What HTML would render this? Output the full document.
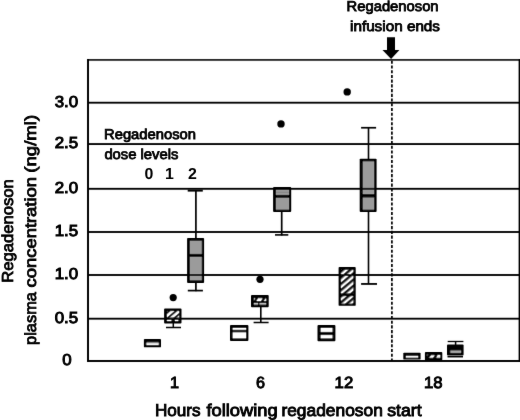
<!DOCTYPE html>
<html lang="en"><head><meta charset="utf-8"><title>Regadenoson plasma concentration</title>
<style>html,body{margin:0;padding:0;background:#fff;}svg{display:block;}text{font-family:"Liberation Sans", Arial, sans-serif;fill:#000;text-rendering:geometricPrecision;}</style></head><body>
<svg width="520" height="420" viewBox="0 0 520 420">
<defs>
<pattern id="h12" patternUnits="userSpaceOnUse" width="14" height="4.75" patternTransform="translate(341.05 283.8) rotate(-40) translate(0 -1.200)"><rect x="0" y="0" width="14" height="4.75" fill="#fff"/><rect x="0" y="0" width="14" height="2.4" fill="#000"/></pattern>
<pattern id="h1" patternUnits="userSpaceOnUse" width="14" height="4.4" patternTransform="translate(172.0 314.4) rotate(-40) translate(0 -0.950)"><rect x="0" y="0" width="14" height="4.4" fill="#fff"/><rect x="0" y="0" width="14" height="1.9" fill="#000"/></pattern>
<filter id="softg" filterUnits="userSpaceOnUse" x="0" y="0" width="520" height="420"><feConvolveMatrix order="3" kernelMatrix="0.00524 0.06192 0.00524 0.06192 0.73137 0.06192 0.00524 0.06192 0.00524" edgeMode="duplicate"/></filter>
<filter id="soft" filterUnits="userSpaceOnUse" x="0" y="0" width="520" height="420"><feConvolveMatrix order="3" kernelMatrix="0.00163 0.03713 0.00163 0.03713 0.84497 0.03713 0.00163 0.03713 0.00163" edgeMode="duplicate"/></filter>
</defs>
<rect x="0" y="0" width="520" height="420" fill="#fff"/>
<g id="chart" filter="url(#softg)">
<g id="boxes">
<rect x="143.90" y="338.90" width="17.10" height="8.40" rx="0.9" fill="#000"/>
<rect x="146.40" y="342.50" width="12.30" height="2.60" fill="#f6f6f6"/>
<rect x="164.10" y="308.60" width="17.40" height="14.80" rx="0.9" fill="#000"/>
<rect x="167.00" y="311.10" width="12.20" height="9.60" fill="url(#h1)"/>
<rect x="187.10" y="237.90" width="17.00" height="45.10" rx="0.9" fill="#000"/>
<rect x="189.80" y="240.70" width="12.00" height="39.70" fill="#9b9b9b"/>
<rect x="230.00" y="325.00" width="18.40" height="16.00" rx="0.9" fill="#000"/>
<rect x="232.60" y="328.00" width="13.40" height="10.40" fill="#fff"/>
<rect x="251.00" y="295.00" width="17.70" height="12.20" rx="0.9" fill="#000"/>
<rect x="273.10" y="187.00" width="18.10" height="25.00" rx="0.9" fill="#000"/>
<rect x="275.95" y="189.50" width="13.05" height="20.20" fill="#9b9b9b"/>
<rect x="317.50" y="325.10" width="17.90" height="16.10" rx="0.9" fill="#000"/>
<rect x="320.60" y="328.00" width="11.90" height="10.40" fill="#fff"/>
<rect x="338.60" y="267.10" width="17.10" height="38.70" rx="0.9" fill="#000"/>
<rect x="341.05" y="269.70" width="12.35" height="33.90" fill="url(#h12)"/>
<rect x="359.70" y="158.70" width="16.90" height="53.30" rx="0.9" fill="#000"/>
<rect x="362.70" y="161.30" width="11.50" height="48.40" fill="#9b9b9b"/>
<rect x="403.30" y="352.70" width="17.30" height="6.90" rx="0.9" fill="#000"/>
<rect x="405.90" y="355.80" width="12.30" height="1.90" fill="#f4f4f4"/>
<rect x="424.90" y="352.00" width="17.40" height="8.50" rx="0.9" fill="#000"/>
<rect x="447.00" y="344.60" width="16.60" height="10.80" rx="0.9" fill="#000"/>
<rect x="450.30" y="350.40" width="10.80" height="2.50" fill="#a8a8a8"/>
<polygon points="256.30,301.10 258.10,298.20 262.60,298.20 261.00,301.10" fill="#fff"/>
<polygon points="253.80,300.80 253.80,298.30 255.40,298.30" fill="#ddd"/>
<polygon points="263.80,301.10 265.30,298.50 266.30,298.50 266.30,301.10" fill="#e8e8e8"/>
<rect x="253.80" y="303.10" width="4.20" height="1.50" fill="#d0d0d0"/>
<rect x="259.40" y="303.10" width="6.80" height="1.50" fill="#d0d0d0"/>
<polygon points="429.10,357.70 431.20,355.30 434.90,355.30 433.00,357.70" fill="#fff"/>
<polygon points="436.20,357.70 437.60,355.10 440.30,355.10 440.30,357.70" fill="#f0f0f0"/>
<polygon points="426.70,356.20 426.70,354.60 428.60,354.60" fill="#777"/>
<rect x="167.20" y="319.50" width="4.50" height="1.50" fill="#fff"/>
<rect x="174.90" y="319.50" width="3.50" height="1.50" fill="#fff"/>
<rect x="171.60" y="319.60" width="3.40" height="1.30" fill="#000"/>
</g>
<g id="grid">
<rect x="88.00" y="101.78" width="431.30" height="1.85" fill="#000"/>
<rect x="88.00" y="143.12" width="431.30" height="1.85" fill="#000"/>
<rect x="88.00" y="187.88" width="431.30" height="1.85" fill="#000"/>
<rect x="88.00" y="231.07" width="431.30" height="1.85" fill="#000"/>
<rect x="88.00" y="274.07" width="431.30" height="1.85" fill="#000"/>
<rect x="88.00" y="317.77" width="431.30" height="1.85" fill="#000"/>
<rect x="87.20" y="59.00" width="432.80" height="1.80" fill="#222"/>
<rect x="87.20" y="360.02" width="433.80" height="1.95" fill="#000"/>
<rect x="87.03" y="59.10" width="1.95" height="302.80" fill="#000"/>
<rect x="518.60" y="59.10" width="1.60" height="302.80" fill="#000"/>
</g>
<g id="whiskers">
<rect x="147.00" y="343.45" width="11.20" height="0.70" fill="#c4c4c4"/>
<rect x="167.00" y="317.65" width="12.20" height="1.90" fill="#000"/>
<rect x="172.55" y="323.00" width="1.50" height="4.90" fill="#000"/>
<rect x="166.00" y="326.75" width="15.00" height="1.50" fill="#000"/>
<rect x="189.20" y="253.90" width="13.20" height="2.90" fill="#000"/>
<rect x="195.05" y="190.50" width="1.70" height="48.00" fill="#000"/>
<rect x="187.70" y="189.60" width="15.10" height="2.00" fill="#000"/>
<rect x="195.05" y="282.50" width="1.70" height="8.70" fill="#000"/>
<rect x="187.80" y="289.75" width="15.10" height="1.70" fill="#000"/>
<rect x="232.00" y="329.80" width="14.60" height="2.50" fill="#000"/>
<rect x="253.50" y="301.05" width="13.00" height="1.90" fill="#000"/>
<rect x="260.00" y="307.00" width="1.60" height="15.90" fill="#000"/>
<rect x="253.60" y="321.75" width="15.00" height="1.50" fill="#000"/>
<rect x="275.20" y="194.90" width="14.10" height="2.80" fill="#000"/>
<rect x="276.00" y="191.80" width="13.00" height="0.80" fill="#808080"/>
<rect x="280.85" y="211.50" width="1.70" height="24.00" fill="#000"/>
<rect x="275.00" y="234.10" width="13.30" height="1.60" fill="#000"/>
<rect x="320.00" y="331.90" width="13.10" height="3.20" fill="#000"/>
<rect x="340.50" y="293.40" width="13.50" height="2.80" fill="#000"/>
<rect x="361.80" y="194.15" width="13.00" height="3.30" fill="#000"/>
<rect x="367.70" y="127.80" width="1.60" height="31.40" fill="#000"/>
<rect x="361.10" y="126.90" width="15.00" height="1.70" fill="#000"/>
<rect x="367.70" y="211.50" width="1.60" height="72.40" fill="#000"/>
<rect x="361.10" y="283.05" width="15.90" height="1.80" fill="#000"/>
<rect x="454.85" y="341.50" width="1.50" height="3.50" fill="#000"/>
<rect x="447.70" y="340.85" width="15.70" height="1.30" fill="#000"/>
<rect x="447.50" y="355.95" width="15.50" height="1.50" fill="#000"/>
</g>
<g id="outliers">
<circle cx="173.2" cy="297.6" r="3.6" fill="#000"/>
<circle cx="260.0" cy="279.3" r="3.6" fill="#000"/>
<circle cx="281.0" cy="123.9" r="3.7" fill="#000"/>
<circle cx="347.2" cy="91.9" r="3.7" fill="#000"/>
</g>
<line x1="391.9" y1="60.7" x2="391.9" y2="360.5" stroke="#000" stroke-width="1.7" stroke-dasharray="3.1 1.626"/>
<polygon points="387.00,37.20 395.00,37.20 395.00,50.10 399.40,50.10 391.10,58.90 382.50,50.10 387.00,50.10" fill="#000"/>
</g>
<g id="labels" filter="url(#soft)">
<text x="346.60" y="11.30" font-size="14.2" font-weight="normal" text-anchor="start" textLength="92.00" lengthAdjust="spacingAndGlyphs" stroke="#000" stroke-width="0.8">Regadenoson</text>
<text x="350.00" y="31.30" font-size="14.2" font-weight="normal" text-anchor="start" textLength="90.00" lengthAdjust="spacingAndGlyphs" stroke="#000" stroke-width="0.8">infusion ends</text>
<text x="54.70" y="106.60" font-size="15.9" font-weight="normal" text-anchor="start" textLength="23.50" lengthAdjust="spacingAndGlyphs" stroke="#000" stroke-width="0.95">3.0</text>
<text x="54.70" y="147.95" font-size="15.9" font-weight="normal" text-anchor="start" textLength="23.50" lengthAdjust="spacingAndGlyphs" stroke="#000" stroke-width="0.95">2.5</text>
<text x="54.70" y="192.70" font-size="15.9" font-weight="normal" text-anchor="start" textLength="23.50" lengthAdjust="spacingAndGlyphs" stroke="#000" stroke-width="0.95">2.0</text>
<text x="54.70" y="235.90" font-size="15.9" font-weight="normal" text-anchor="start" textLength="23.50" lengthAdjust="spacingAndGlyphs" stroke="#000" stroke-width="0.95">1.5</text>
<text x="54.70" y="278.90" font-size="15.9" font-weight="normal" text-anchor="start" textLength="23.50" lengthAdjust="spacingAndGlyphs" stroke="#000" stroke-width="0.95">1.0</text>
<text x="54.70" y="322.60" font-size="15.9" font-weight="normal" text-anchor="start" textLength="23.50" lengthAdjust="spacingAndGlyphs" stroke="#000" stroke-width="0.95">0.5</text>
<text x="62.20" y="365.10" font-size="15.8" font-weight="normal" text-anchor="start" textLength="9.40" lengthAdjust="spacingAndGlyphs" stroke="#000" stroke-width="0.95">0</text>
<text x="13.20" y="282.80" font-size="16.0" font-weight="normal" text-anchor="start" textLength="103.50" lengthAdjust="spacingAndGlyphs" stroke="#000" stroke-width="0.8" transform="rotate(-90 13.20 282.80)">Regadenoson</text>
<text x="35.90" y="344.90" font-size="16.0" font-weight="normal" text-anchor="start" textLength="52.90" lengthAdjust="spacingAndGlyphs" stroke="#000" stroke-width="0.8" transform="rotate(-90 35.90 344.90)">plasma</text>
<text x="35.90" y="287.40" font-size="16.0" font-weight="normal" text-anchor="start" textLength="110.40" lengthAdjust="spacingAndGlyphs" stroke="#000" stroke-width="0.8" transform="rotate(-90 35.90 287.40)">concentration</text>
<text x="35.90" y="172.70" font-size="16.0" font-weight="normal" text-anchor="start" textLength="57.80" lengthAdjust="spacingAndGlyphs" stroke="#000" stroke-width="0.8" transform="rotate(-90 35.90 172.70)">(ng/ml)</text>
<text x="104.00" y="139.00" font-size="14.2" font-weight="normal" text-anchor="start" textLength="92.00" lengthAdjust="spacingAndGlyphs" stroke="#000" stroke-width="0.8">Regadenoson</text>
<text x="104.40" y="159.20" font-size="14.2" font-weight="normal" text-anchor="start" textLength="74.00" lengthAdjust="spacingAndGlyphs" stroke="#000" stroke-width="0.8">dose levels</text>
<text x="149.00" y="179.40" font-size="15.9" font-weight="bold" text-anchor="middle">0</text>
<text x="169.40" y="179.40" font-size="15.9" font-weight="bold" text-anchor="middle">1</text>
<text x="192.50" y="179.40" font-size="15.9" font-weight="bold" text-anchor="middle">2</text>
<text x="174.60" y="387.60" font-size="16.2" font-weight="normal" text-anchor="middle" stroke="#000" stroke-width="0.95">1</text>
<text x="260.45" y="387.60" font-size="16.2" font-weight="normal" text-anchor="middle" stroke="#000" stroke-width="0.95">6</text>
<text x="334.60" y="387.60" font-size="16.2" font-weight="normal" text-anchor="start" textLength="18.60" lengthAdjust="spacingAndGlyphs" stroke="#000" stroke-width="0.95">12</text>
<text x="424.00" y="387.60" font-size="16.2" font-weight="normal" text-anchor="start" textLength="18.60" lengthAdjust="spacingAndGlyphs" stroke="#000" stroke-width="0.95">18</text>
<text x="154.90" y="416.20" font-size="17.0" font-weight="normal" text-anchor="start" textLength="45.70" lengthAdjust="spacingAndGlyphs" stroke="#000" stroke-width="0.9">Hours</text>
<text x="206.40" y="416.20" font-size="17.0" font-weight="normal" text-anchor="start" textLength="71.30" lengthAdjust="spacingAndGlyphs" stroke="#000" stroke-width="0.9">following</text>
<text x="281.40" y="416.20" font-size="17.0" font-weight="normal" text-anchor="start" textLength="101.50" lengthAdjust="spacingAndGlyphs" stroke="#000" stroke-width="0.9">regadenoson</text>
<text x="387.20" y="416.20" font-size="17.0" font-weight="normal" text-anchor="start" textLength="34.40" lengthAdjust="spacingAndGlyphs" stroke="#000" stroke-width="0.9">start</text>
</g>
</svg></body></html>
